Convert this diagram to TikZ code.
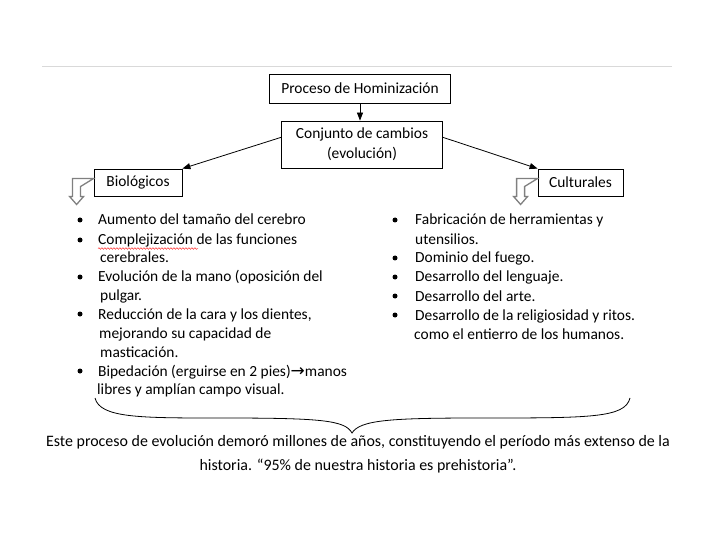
\documentclass[tikz,border=0pt]{standalone}
\usepackage{fontspec}
\setmainfont{Carlito}
\newfontfamily\arrowfont{DejaVu Sans}
\usetikzlibrary{arrows.meta,positioning,calc,decorations.pathmorphing}

\tikzset{
  box/.style={draw, line width=0.8pt, inner sep=0pt, font=\fontsize{15.5}{19}\selectfont},
  arr/.style={-{Triangle[length=8bp,width=6bp]}, line width=0.8pt},
  itemline/.style={anchor=base west, inner sep=0pt, font=\fontsize{15.5}{19}\selectfont},
  bul/.style={circle, fill, inner sep=0pt, minimum size=5bp},
  hollow/.style={draw=gray, line width=1.3pt, fill=white, line join=miter},
}

% hollow bent arrow hanging off the left side of a box
\newcommand{\bentarrow}[1]{%
  \draw[hollow] ($(#1.west)+(0,-4)$) -- ++(-21,0) -- ++(0,18) -- ++(-3,0)
    -- ++(7,8) -- ++(7,-8) -- ++(-3,0) -- ++(0,-10) -- cycle;}

\begin{document}
\begin{tikzpicture}[x=1bp,y=-1bp]
\useasboundingbox (0,0) rectangle (720,540);

% header line
\draw[gray!30, line width=0.8pt] (42,66) -- (672,66);

% top boxes
\node[box, minimum width=181bp, minimum height=29bp] (proceso) at (360,88.5) {Proceso de Hominización};
\node[box, minimum width=161bp, minimum height=47bp, align=center, font=\fontsize{15.5}{20}\selectfont] (cambios) at (362,144.5) {\raisebox{-3bp}{Conjunto de cambios}\\\raisebox{-3bp}{(evolución)}};
\draw[arr] (proceso) -- (proceso |- cambios.north);

% two branches
\node[box, minimum width=88bp, minimum height=27bp] (bio) at (138,182.5) {Biológicos};
\node[box, minimum width=85bp, minimum height=27bp] (cult) at (580.5,182.5) {Culturales};
\draw[arr] ($(cambios.north west)!0.35!(cambios.south west)$) -- (bio.north east);
\draw[arr] ($(cambios.north east)!0.35!(cambios.south east)$) -- (cult.north west);
\bentarrow{bio}
\bentarrow{cult}

% biological changes
\node[itemline] (b1) at (98,225) {Aumento del tamaño del cerebro};
\node[itemline] (b2) at (98,245) {Complejización de las funciones};
\node[itemline] (b2a) at (100,263) {cerebrales.};
\node[itemline] (b3) at (98,282) {Evolución de la mano (oposición del};
\node[itemline] (b3a) at (100,300) {pulgar.};
\node[itemline] (b4) at (98,319) {Reducción de la cara y los dientes,};
\node[itemline] (b4a) at (99,338) {mejorando su capacidad de};
\node[itemline] (b4b) at (100,357) {masticación.};
\node[itemline] (b5) at (98,376) {Bipedación (erguirse en 2 pies){\arrowfont\fontsize{17}{19}\selectfont →}manos};
\node[itemline] (b5a) at (97,394) {libres y amplían campo visual.};
\foreach \n in {b1,b2,b3,b4,b5}
  \node[bul] at ($(\n.base west)+(-18,-5)$) {};
\draw[red, line width=0.4pt, decorate, decoration={snake, segment length=3bp, amplitude=0.8bp}]
  ($(b2.base west)+(0,3.5)$) -- ++(100,0);

% cultural changes
\node[itemline] (c1) at (415,225) {Fabricación de herramientas y};
\node[itemline] (c1a) at (415,245) {utensilios.};
\node[itemline] (c2) at (415,263) {Dominio del fuego.};
\node[itemline] (c3) at (415,282) {Desarrollo del lenguaje.};
\node[itemline] (c4) at (415,301) {Desarrollo del arte.};
\node[itemline] (c5) at (415,320) {Desarrollo de la religiosidad y ritos.};
\node[itemline] (c5a) at (414,339) {como el entierro de los humanos.};
\foreach \n in {c1,c2,c3,c4,c5}
  \node[bul] at ($(\n.base west)+(-20,-5)$) {};

% brace and closing note
\coordinate (bl) at (95,398);
\coordinate (bt) at (352,433);
\coordinate (br) at (630,398);
\draw[line width=0.8pt] (bl) .. controls (100,418) and (140,418) .. (220,418)
  .. controls (320,418) and (345,420) .. (bt)
  .. controls (360,420) and (390,418) .. (480,418)
  .. controls (590,418) and (625,418) .. (br);
\node[anchor=base, inner sep=0pt, align=center, font=\fontsize{16}{24}\selectfont] (nota) at (358,470)
  {Este proceso de evolución demoró millones de años, constituyendo el período más extenso de la\\
   historia. “95\% de nuestra historia es prehistoria”.};
\end{tikzpicture}
\end{document}
